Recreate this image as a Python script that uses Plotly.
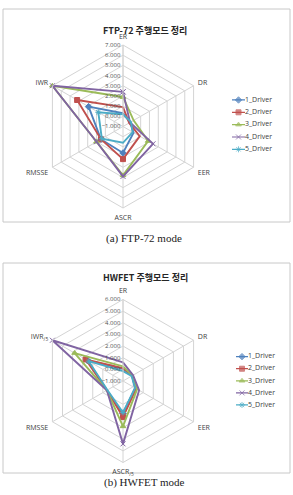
import plotly.graph_objects as go

categories_ftp = ["ER", "DR", "EER", "ASCR", "RMSSE", "IWR"]
categories_hwfet = ["ER", "DR", "EER", "ASCR<sub>/5</sub>", "RMSSE", "IWR<sub>/5</sub>"]
drivers = ["1_Driver", "2_Driver", "3_Driver", "4_Driver", "5_Driver"]

ftp_driver1 = [0.3, -0.2, 0.2, 1.6, 1.5, 2.9]
ftp_driver2 = [0.9, -0.3, 0.9, 2.2, 1.5, 4.2]
ftp_driver3 = [1.9, 0.2, 1.85, 3.8, 2.0, 7.0]
ftp_driver4 = [2.4, -0.2, 2.4, 3.9, 2.0, 7.0]
ftp_driver5 = [0.2, -0.1, 0.1, 0.6, 1.4, 1.8]

hwfet_driver1 = [0.05, -0.1, 0.2, 1.8, 0.6, 2.5]
hwfet_driver2 = [0.1, -0.1, 0.3, 2.1, 0.6, 2.7]
hwfet_driver3 = [0.25, -0.05, 0.4, 2.9, 0.6, 3.8]
hwfet_driver4 = [0.6, 0.0, 0.6, 4.4, 0.6, 6.0]
hwfet_driver5 = [-0.15, -0.15, 0.2, 1.7, 0.55, 2.4]

ftp_range = [-1, 7]
hwfet_range = [-1, 6]

colors = ["#4F81BD", "#C0504D", "#9BBB59", "#8064A2", "#4BACC6"]
symbols = ["diamond", "square", "triangle-up", "x-thin", "asterisk"]

ftp_series = [ftp_driver1, ftp_driver2, ftp_driver3, ftp_driver4, ftp_driver5]
hwfet_series = [hwfet_driver1, hwfet_driver2, hwfet_driver3, hwfet_driver4, hwfet_driver5]

W, H = 293, 495
fig = go.Figure()

def close(v):
    return list(v) + [v[0]]

for i, name in enumerate(drivers):
    mk = dict(symbol=symbols[i], size=5, color=colors[i],
              line=dict(color=colors[i], width=1))
    fig.add_trace(go.Scatterpolar(
        r=close(ftp_series[i]), theta=close(categories_ftp), mode="lines+markers",
        line=dict(color=colors[i], width=1.9), marker=mk, name=name,
        subplot="polar", showlegend=False))
    fig.add_trace(go.Scatterpolar(
        r=close(hwfet_series[i]), theta=close(categories_hwfet), mode="lines+markers",
        line=dict(color=colors[i], width=1.9), marker=mk, name=name,
        subplot="polar2", showlegend=False))

# manual legends drawn on small xy axes
for i, name in enumerate(drivers):
    for xa, ya in (("x", "y"), ("x2", "y2")):
        fig.add_trace(go.Scatter(
            x=[0, 0.5, 1], y=[i + 1] * 3, mode="lines+markers",
            line=dict(color=colors[i], width=1.2),
            marker=dict(symbol=symbols[i], size=[0, 5, 0], color=colors[i],
                        line=dict(color=colors[i], width=1)),
            xaxis=xa, yaxis=ya, showlegend=False, hoverinfo="skip", cliponaxis=False))
        fig.add_trace(go.Scatter(
            x=[1], y=[i + 1], mode="text",
            text=[name], textposition="middle right",
            textfont=dict(size=7, color="#404040", family="Open Sans"),
            xaxis=xa, yaxis=ya, showlegend=False, hoverinfo="skip", cliponaxis=False))

def pdom(cx, cy, r):
    return dict(x=[(cx - r) / W, (cx + r) / W],
                y=[1 - (cy + r) / H, 1 - (cy - r) / H])

grid = "#d4d4d4"
label_font = dict(size=7, color="#404040", family="Open Sans")

def polar_layout(cats, rng, dom):
    return dict(
        domain=dom,
        bgcolor="white",
        gridshape="linear",
        angularaxis=dict(categoryorder="array", categoryarray=cats,
                         rotation=90, direction="clockwise",
                         showline=True, linecolor=grid, linewidth=1,
                         gridcolor=grid, gridwidth=1,
                         ticks="outside", ticklen=3, tickcolor="rgba(0,0,0,0)",
                         tickfont=label_font),
        radialaxis=dict(range=rng, dtick=1, tickformat=".3f", angle=90,
                        showline=True, linecolor=grid, linewidth=1,
                        gridcolor=grid, gridwidth=1, ticks="",
                        tickangle=90, side="counterclockwise",
                        tickfont=dict(size=6, color="#505050", family="Open Sans")),
    )

def ydom(ytop, ybot):
    return [1 - ybot / H, 1 - ytop / H]

fig.update_layout(
    width=W, height=H,
    margin=dict(l=0, r=0, t=0, b=0),
    paper_bgcolor="white", plot_bgcolor="rgba(0,0,0,0)",
    polar=polar_layout(categories_ftp, ftp_range, pdom(123, 126.5, 81.5)),
    polar2=polar_layout(categories_hwfet, hwfet_range, pdom(123, 381, 81.5)),
    xaxis=dict(domain=[232 / W, 245 / W], range=[0, 1], visible=False, fixedrange=True),
    yaxis=dict(domain=ydom(93.8, 155.5), range=[5.5, 0.5], visible=False, fixedrange=True),
    xaxis2=dict(domain=[236 / W, 248 / W], range=[0, 1], visible=False, fixedrange=True, anchor="y2"),
    yaxis2=dict(domain=ydom(350.6, 411), range=[5.5, 0.5], visible=False, fixedrange=True, anchor="x2"),
    shapes=[
        dict(type="rect", xref="paper", yref="paper",
             x0=3 / W, x1=290 / W, y0=1 - 222 / H, y1=1 - 9 / H,
             line=dict(color="#c8c8c8", width=1), layer="below"),
        dict(type="rect", xref="paper", yref="paper",
             x0=3 / W, x1=290 / W, y0=1 - 473 / H, y1=1 - 263 / H,
             line=dict(color="#c8c8c8", width=1), layer="below"),
    ],
    annotations=[
        dict(text="<b>FTP-72 주행모드 정리</b>", x=145 / W, y=1 - 22.5 / H,
             xref="paper", yref="paper", showarrow=False,
             font=dict(size=9, color="#262626", family="Noto Sans CJK KR")),
        dict(text="<b>HWFET 주행모드 정리</b>", x=145 / W, y=1 - 277 / H,
             xref="paper", yref="paper", showarrow=False,
             font=dict(size=9, color="#262626", family="Noto Sans CJK KR")),
        dict(text="(a) FTP-72 mode", x=144 / W, y=1 - 238.5 / H,
             xref="paper", yref="paper", showarrow=False,
             font=dict(size=11, color="#222222", family="Liberation Serif")),
        dict(text="(b) HWFET mode", x=144 / W, y=1 - 491 / H,
             xref="paper", yref="paper", showarrow=False,
             font=dict(size=11, color="#222222", family="Liberation Serif")),
    ],
)

fig.write_html("out.html")
